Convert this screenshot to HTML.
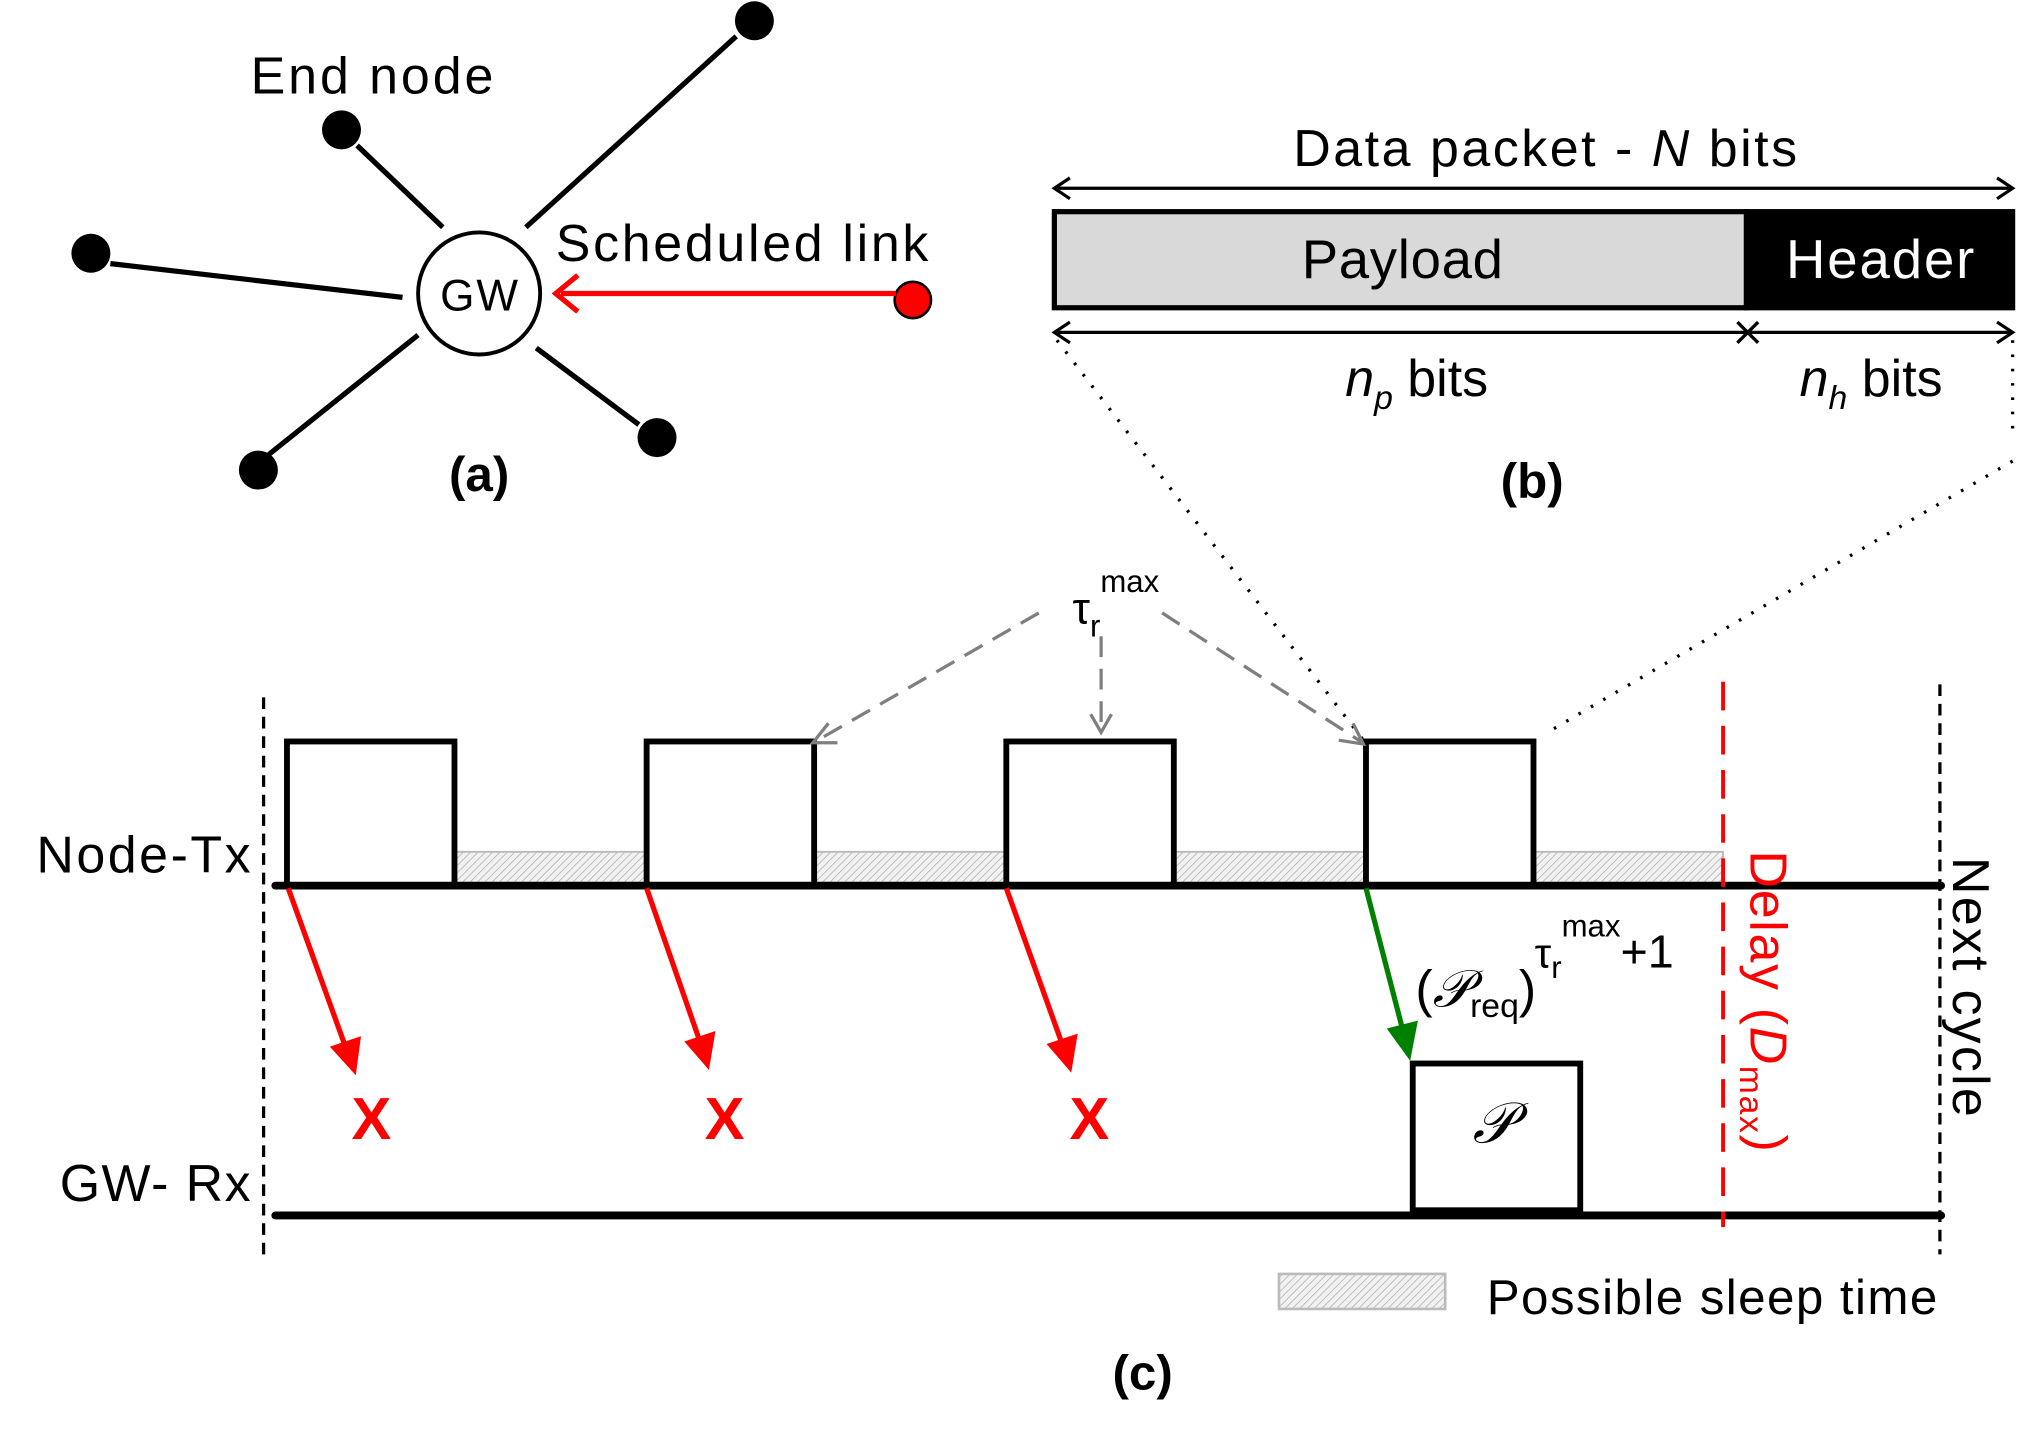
<!DOCTYPE html>
<html><head><meta charset="utf-8"><style>
html,body{margin:0;padding:0;background:#fff}
svg{display:block}
text{font-family:"Liberation Sans",sans-serif;}
</style></head><body>
<svg width="2036" height="1444" viewBox="0 0 1568 1112" preserveAspectRatio="none" xmlns="http://www.w3.org/2000/svg">
<defs>
<pattern id="h" width="4" height="4" patternUnits="userSpaceOnUse" patternTransform="rotate(45)">
<rect width="4" height="4" fill="#f2f2f2"/><line x1="0" y1="0" x2="0" y2="4" stroke="#b0b0b0" stroke-width="1.2"/>
</pattern>
</defs>

<!-- (a) -->
<g stroke="#000" stroke-width="4">
<line x1="405" y1="175" x2="567" y2="28"/>
<line x1="275" y1="112" x2="341" y2="175"/>
<line x1="85" y1="203" x2="310" y2="229"/>
<line x1="207" y1="350" x2="322" y2="258"/>
<line x1="413" y1="268" x2="492" y2="327"/>
</g>
<circle cx="369" cy="226" r="47" fill="#fff" stroke="#000" stroke-width="3"/>
<g fill="#000"><circle cx="581" cy="16" r="15"/><circle cx="263" cy="100" r="15"/><circle cx="70" cy="195" r="15"/><circle cx="199" cy="362" r="15"/><circle cx="506" cy="337" r="15"/></g>
<circle cx="703" cy="231" r="14" fill="red" stroke="#000" stroke-width="2"/>
<line x1="690" y1="226" x2="432" y2="226" stroke="red" stroke-width="4"/>
<polyline points="445,212 428,226 445,240" fill="none" stroke="red" stroke-width="4"/>
<text x="369" y="239" font-size="34" text-anchor="middle" textLength="60">GW</text>
<text x="193" y="72" font-size="40" textLength="187">End node</text>
<text x="428" y="201" font-size="40" textLength="287">Scheduled link</text>
<text x="369" y="378" font-size="38" font-weight="bold" text-anchor="middle">(a)</text>

<!-- (b) -->
<text x="996" y="128" font-size="40" textLength="388">Data packet - <tspan font-style="italic">N</tspan> bits</text>
<g stroke="#000" stroke-width="2.5" fill="none">
<line x1="812" y1="145" x2="1550" y2="145"/>
<polyline points="824,137 812,145 824,153"/><polyline points="1538,137 1550,145 1538,153"/>
<line x1="812" y1="256" x2="1550" y2="256"/>
<polyline points="824,248 812,256 824,264"/><polyline points="1538,248 1550,256 1538,264"/>
<line x1="1338" y1="248" x2="1354" y2="264"/><line x1="1354" y1="248" x2="1338" y2="264"/>
</g>
<rect x="812" y="163" width="533" height="74" fill="#d9d9d9" stroke="#000" stroke-width="4"/>
<rect x="1345" y="163" width="205" height="74" fill="#000" stroke="#000" stroke-width="4"/>
<text x="1080" y="214" font-size="42" text-anchor="middle" textLength="155">Payload</text>
<text x="1448" y="214" font-size="42" fill="#fff" text-anchor="middle" textLength="145">Header</text>
<text x="1036" y="305" font-size="40"><tspan font-style="italic">n</tspan><tspan font-size="26" font-style="italic" dy="10">p</tspan><tspan dy="-10"> bits</tspan></text>
<text x="1386" y="305" font-size="40"><tspan font-style="italic">n</tspan><tspan font-size="26" font-style="italic" dy="10">h</tspan><tspan dy="-10"> bits</tspan></text>
<text x="1180" y="383" font-size="38" font-weight="bold" text-anchor="middle">(b)</text>

<!-- dotted -->
<g stroke="#000" stroke-width="2.5" stroke-dasharray="2,9" fill="none">
<line x1="814" y1="262" x2="1050" y2="570"/>
<line x1="1550" y1="262" x2="1550" y2="330"/>
<line x1="1550" y1="355" x2="1190" y2="565"/>
</g>

<!-- (c) -->
<rect x="350" y="656" width="148" height="26" fill="url(#h)" stroke="#bbb" stroke-width="1.5"/>
<rect x="627" y="656" width="148" height="26" fill="url(#h)" stroke="#bbb" stroke-width="1.5"/>
<rect x="904" y="656" width="148" height="26" fill="url(#h)" stroke="#bbb" stroke-width="1.5"/>
<rect x="1181" y="656" width="146" height="26" fill="url(#h)" stroke="#bbb" stroke-width="1.5"/>
<g fill="#fff" stroke="#000" stroke-width="4.5">
<rect x="221" y="571" width="129" height="111"/>
<rect x="498" y="571" width="129" height="111"/>
<rect x="775" y="571" width="129" height="111"/>
<rect x="1052" y="571" width="129" height="111"/>
<rect x="1088" y="819" width="129" height="113"/>
</g>
<g stroke="#000" stroke-width="6" stroke-linecap="round">
<line x1="212" y1="682" x2="1495" y2="682"/>
<line x1="212" y1="936" x2="1495" y2="936"/>
</g>
<g stroke="#000" stroke-width="2.5" stroke-dasharray="9,6">
<line x1="203" y1="537" x2="203" y2="972"/>
<line x1="1494" y1="527" x2="1494" y2="966"/>
</g>
<line x1="1327" y1="525" x2="1327" y2="945" stroke="red" stroke-width="3" stroke-dasharray="22,12"/>

<!-- gray dashed arrows -->
<g stroke="#7f7f7f" stroke-width="2.5" stroke-dasharray="16,9" fill="none">
<line x1="800" y1="472" x2="628" y2="571"/>
<line x1="848" y1="490" x2="848" y2="562"/>
<line x1="895" y1="472" x2="1048" y2="571"/>
</g>
<g stroke="#7f7f7f" stroke-width="2.5" fill="none">
<polyline points="638,557 626,572 645,572"/>
<polyline points="840,550 848,564 856,550"/>
<polyline points="1031,570 1050,573 1042,557"/>
</g>
<text x="826" y="480" font-size="34">τ<tspan font-size="24" dy="10">r</tspan><tspan font-size="24" dy="-34">max</tspan></text>

<!-- red arrows -->
<g stroke="red" stroke-width="4">
<line x1="222" y1="684" x2="266" y2="806"/>
<line x1="498" y1="684" x2="539" y2="802"/>
<line x1="775" y1="684" x2="818" y2="804"/>
</g>
<g fill="red">
<path d="M274,828 L254,806 L278,798 z"/>
<path d="M546,824 L527,802 L551,794 z"/>
<path d="M825,826 L806,804 L830,796 z"/>
</g>
<line x1="1052" y1="684" x2="1080" y2="792" stroke="#008000" stroke-width="4"/>
<path d="M1086,817 L1068,792 L1092,786 z" fill="#008000"/>
<g fill="red" font-weight="bold" font-size="46" text-anchor="middle">
<text x="286" y="877">X</text><text x="558" y="877">X</text><text x="839" y="877">X</text>
</g>
<text x="1090" y="775" font-size="40">(<tspan font-family="Liberation Serif,serif" font-style="italic">𝒫</tspan><tspan font-size="26" dy="8">req</tspan><tspan dy="-8">)</tspan></text>
<text x="1182" y="745" font-size="32">τ<tspan font-size="24" dy="8">r</tspan><tspan font-size="24" dy="-32">max</tspan><tspan font-size="36" dy="24">+1</tspan></text>
<text x="1150" y="880" font-size="44" font-style="italic" font-family="Liberation Serif,serif" text-anchor="middle">𝒫</text>

<text x="193" y="672" font-size="40" text-anchor="end" textLength="165">Node-Tx</text>
<text x="193" y="925" font-size="40" text-anchor="end" textLength="147">GW- Rx</text>
<text transform="translate(1348,655) rotate(90)" font-size="40" fill="red" textLength="232">Delay (<tspan font-style="italic">D</tspan><tspan font-size="26" dy="8">max</tspan><tspan dy="-8">)</tspan></text>
<text transform="translate(1504,660) rotate(90)" font-size="40" textLength="200">Next cycle</text>

<rect x="985" y="981" width="128" height="27" fill="url(#h)" stroke="#bbb" stroke-width="2"/>
<text x="1145" y="1012" font-size="38" textLength="347">Possible sleep time</text>
<text x="880" y="1070" font-size="38" font-weight="bold" text-anchor="middle">(c)</text>
</svg>
</body></html>
